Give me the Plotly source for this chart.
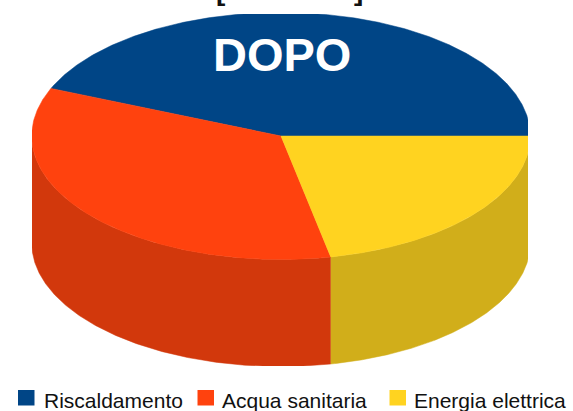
import numpy as np
import plotly.graph_objects as go

categories = ["Riscaldamento", "Acqua sanitaria", "Energia elettrica"]
values = [43.7, 34.5, 21.8]
top_colors = ["#004586", "#FF420E", "#FFD320"]
side_colors = ["#003A70", "#D2380C", "#D1AE1A"]
title_text = "DOPO"

W, H = 573, 411
X0, X1, Y0, Y1 = 32, 528, 14, 366
CX, CY, RX, RY, DEPTH = 281, 136, 249.3, 123.5, 107

def ell(t):
    r = np.radians(t)
    return CX + RX * np.cos(r), CY - RY * np.sin(r)

fig = go.Figure()
total = sum(values)
start = 0.0
spans = []
for v in values:
    spans.append((start, start + v / total * 360))
    start = spans[-1][1]

def poly(x, y, color, name):
    fig.add_trace(go.Scatter(x=x, y=y, mode="lines", fill="toself", fillcolor=color,
                             line=dict(color=color, width=0.5), name=name,
                             hoverinfo="name", showlegend=False))

# outer wall: only the front half of the cylinder is visible
for (a, b), col, name in zip(spans, side_colors, categories):
    lo, hi = max(a, 180), min(b, 360)
    if hi <= lo:
        continue
    t = np.linspace(lo, hi, 240)
    x, y = ell(t)
    poly(np.r_[x, x[::-1]], np.r_[y, y[::-1] + DEPTH], col, name)

# top face
for (a, b), col, name in zip(spans, top_colors, categories):
    t = np.linspace(a, b, 360)
    x, y = ell(t)
    poly(np.r_[CX, x, CX], np.r_[CY, y, CY], col, name)

def to_paper_x(x): return (x - X0) / (X1 - X0)
def to_paper_y(y): return 1 - (y - Y0) / (Y1 - Y0)

shapes = []
annotations = [
    dict(x=281.5, y=54.5, xref="x", yref="y", text=f"<b>{title_text}</b>", showarrow=False,
         font=dict(family="Liberation Sans", size=47, color="white")),
]

for txt, x in (("[", 220.5), ("]", 358.5)):
    annotations.append(dict(x=to_paper_x(x), y=to_paper_y(4.5), xref="paper", yref="paper",
                            text=f"<b>{txt}</b>", showarrow=False, xanchor="center", yanchor="bottom",
                            yshift=-4, font=dict(family="Liberation Sans", size=28, color="#111111")))

legend_x = [18, 197.5, 389.5]
legend_text_x = [41.5, 219.5, 412]
for name, col, sx, tx in zip(categories, top_colors, legend_x, legend_text_x):
    shapes.append(dict(type="rect", xref="paper", yref="paper",
                       x0=to_paper_x(sx), x1=to_paper_x(sx + 16.5),
                       y0=to_paper_y(405.5), y1=to_paper_y(390),
                       fillcolor=col, line=dict(width=0)))
    annotations.append(dict(x=to_paper_x(tx), y=to_paper_y(400), xref="paper", yref="paper",
                            text=name, showarrow=False, xanchor="left", yanchor="middle",
                            font=dict(family="Liberation Sans", size=21, color="#111111")))

fig.update_layout(
    width=W, height=H, autosize=False,
    margin=dict(l=X0, r=W - X1, t=Y0, b=H - Y1, autoexpand=False),
    paper_bgcolor="white", plot_bgcolor="white",
    xaxis=dict(range=[X0, X1], visible=False, fixedrange=True),
    yaxis=dict(range=[Y1, Y0], visible=False, fixedrange=True),
    shapes=shapes, annotations=annotations, showlegend=False,
)
fig.write_html("out.html", config={"displayModeBar": False},
               post_script="document.body.style.margin='0';document.body.style.overflow='hidden';")
